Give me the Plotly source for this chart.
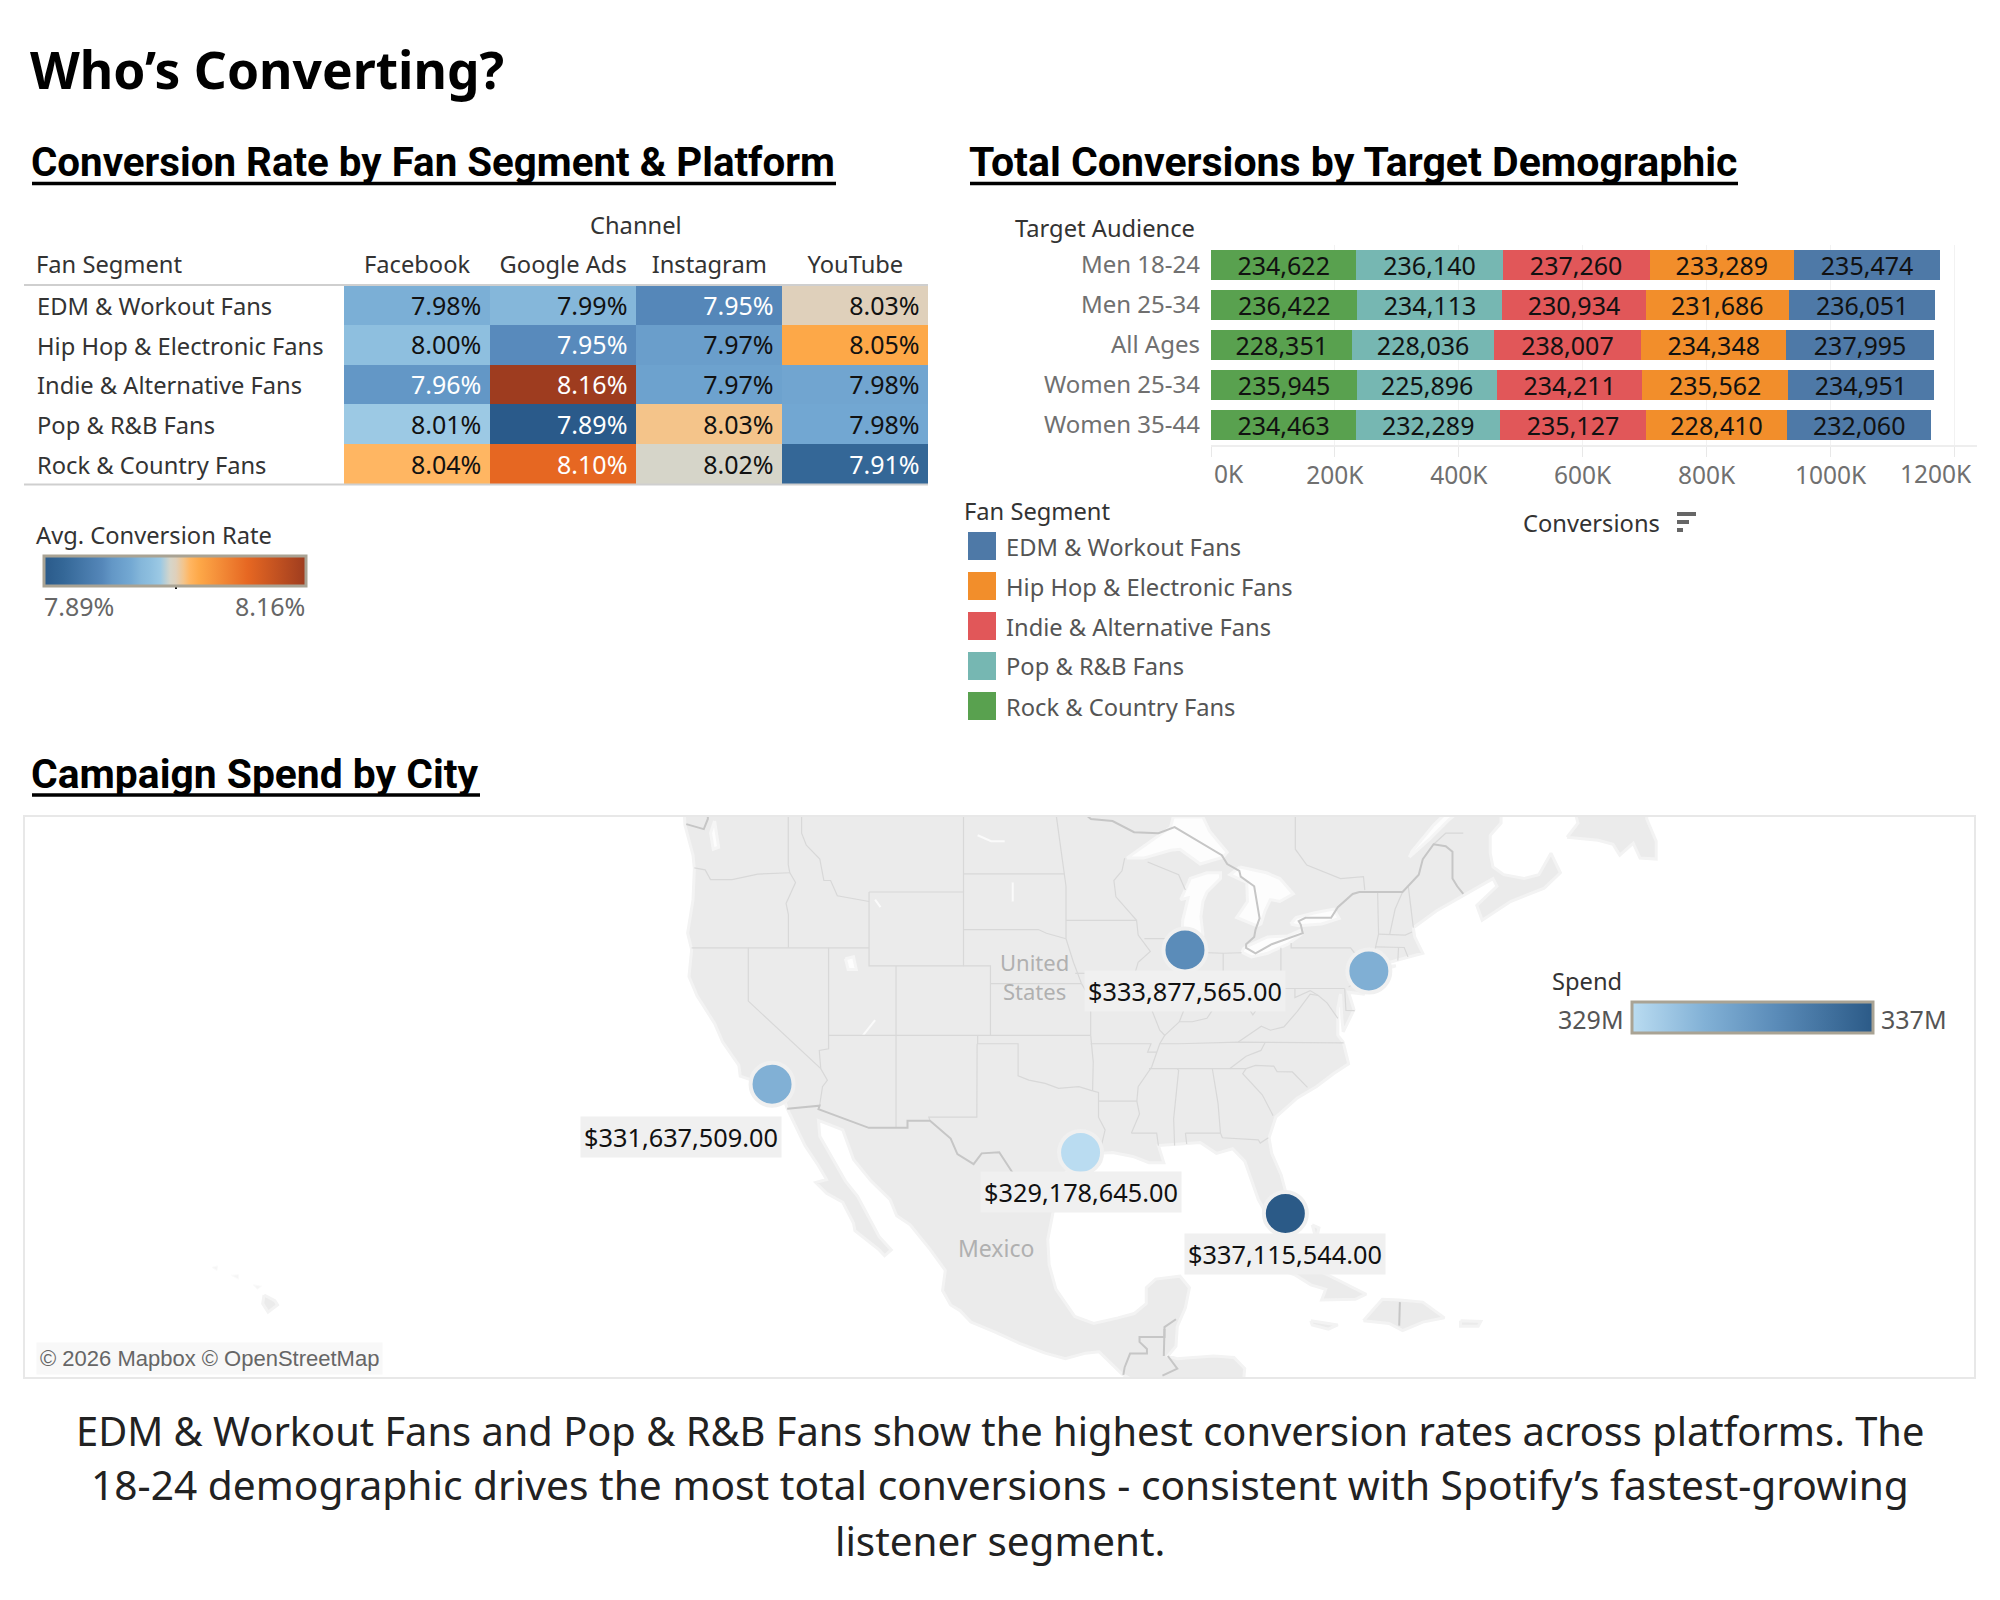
import numpy as np
import plotly.graph_objects as go

W, H = 2000, 1600
FONT = "Noto Sans"

# ---- heatmap data ----
segments = ["EDM & Workout Fans", "Hip Hop & Electronic Fans", "Indie & Alternative Fans",
            "Pop & R&B Fans", "Rock & Country Fans"]
channels = ["Facebook", "Google Ads", "Instagram", "YouTube"]
rate_edm = [7.984, 7.99, 7.95, 8.026]
rate_hiphop = [8.00, 7.952, 7.968, 8.05]
rate_indie = [7.96, 8.16, 7.972, 7.976]
rate_pop = [8.01, 7.89, 8.034, 7.978]
rate_rock = [8.04, 8.10, 8.02, 7.91]
rate_stops = [7.89, 7.91, 7.95, 7.96, 7.98, 7.99, 8.00, 8.01, 8.02, 8.026, 8.034, 8.04, 8.05, 8.10, 8.16]
rate_colors = ["#2a5a8a", "#346797", "#5587b9", "#6397c6", "#74a9d3", "#85b7da", "#8ebfdf", "#9cc9e4",
               "#d6d5c9", "#dfd0bb", "#f4c48a", "#ffb662", "#fda848", "#e66722", "#9e3c1f"]

# ---- stacked bar data ----
audiences = ["Men 18-24", "Men 25-34", "All Ages", "Women 25-34", "Women 35-44"]
conv_rock = [234622, 236422, 228351, 235945, 234463]
conv_pop = [236140, 234113, 228036, 225896, 232289]
conv_indie = [237260, 230934, 238007, 234211, 235127]
conv_hiphop = [233289, 231686, 234348, 235562, 228410]
conv_edm = [235474, 236051, 237995, 234951, 232060]
legend_segments = ["EDM & Workout Fans", "Hip Hop & Electronic Fans", "Indie & Alternative Fans",
                   "Pop & R&B Fans", "Rock & Country Fans"]
segment_colors = ["#4e79a7", "#f28e2b", "#e15759", "#76b7b2", "#59a14f"]
conv_ticks = [0, 200000, 400000, 600000, 800000, 1000000, 1200000]
conv_tick_labels = ["0K", "200K", "400K", "600K", "800K", "1000K", "1200K"]

# ---- city data ----
city_names = ["Los Angeles", "Chicago", "New York", "Houston", "Miami"]
city_lon = [-118.24, -87.63, -74.0, -95.37, -80.19]
city_lat = [34.05, 41.88, 40.71, 29.76, 25.76]
city_spend = [331637509.0, 333877565.0, 331700000.0, 329178645.0, 337115544.0]
city_labelled = [True, True, False, True, True]
city_label_dx = [-91, 0, 0, 0, 0]
city_label_dy = [54, 42, 0, 41, 42]
spend_stops = [0.0, 0.3, 0.6, 1.0]
spend_colors = ["#badcf1", "#82b1d6", "#5a8bb8", "#2b5a87"]

# ---- base map geography, lon/lat ----
mainland = [
    (-125, 52), (-124.7, 48.4), (-124.1, 46.9), (-124.0, 46.2), (-124.1, 44.6), (-124.5, 42.8), (-124.2, 41.9),
    (-124.4, 40.4), (-123.8, 39.3), (-123.0, 38.3), (-122.5, 37.7), (-121.9, 36.6), (-120.7, 35.2), (-120.6, 34.55),
    (-119.2, 34.15), (-118.4, 33.8), (-117.3, 33.0), (-117.1, 32.5), (-116.3, 31.1), (-115.8, 30.2), (-114.8, 28.9),
    (-114.2, 28.0), (-115.0, 27.8), (-114.2, 27.1), (-113.0, 26.5), (-112.2, 25.1), (-112.1, 24.6), (-110.3, 23.3),
    (-109.9, 22.9), (-109.4, 23.3), (-110.3, 24.2), (-110.7, 24.9), (-111.3, 25.9), (-111.9, 26.9), (-112.8, 27.9),
    (-113.5, 29.0), (-114.7, 30.8), (-114.8, 31.8), (-113.0, 31.2), (-112.2, 29.3), (-110.9, 27.9), (-109.5, 26.7),
    (-109.0, 25.6), (-108.0, 25.0), (-106.5, 23.3), (-105.4, 21.9), (-105.6, 20.5), (-105.0, 19.5), (-104.3, 19.1),
    (-103.5, 18.3), (-101.7, 17.6), (-99.9, 16.8), (-98.0, 16.1), (-96.5, 15.7), (-95.0, 16.1), (-94.0, 16.2),
    (-92.3, 14.6), (-91.0, 13.9), (-89.5, 13.4), (-87.5, 13.0), (-85, 11), (-83.5, 12), (-83.2, 15), (-84, 15.8),
    (-85.5, 15.9), (-87, 15.8), (-88.2, 15.7), (-88.9, 15.9), (-88.3, 16.6), (-88.2, 18.0), (-87.6, 19.3), (-87.3, 20.7),
    (-88, 21.5), (-89.8, 21.3), (-90.5, 20.7), (-90.5, 19.6), (-91.4, 18.9), (-92.6, 18.6), (-94.4, 18.2), (-95.8, 18.7),
    (-96.4, 19.5), (-97.2, 20.6), (-97.7, 22.3), (-97.8, 24.0), (-97.4, 25.9), (-97.3, 27.5), (-96.4, 28.5), (-95.0, 29.3),
    (-94.0, 29.7), (-93.0, 29.75), (-91.5, 29.5), (-90.3, 29.1), (-89.2, 29.1), (-89.6, 30.2), (-88.0, 30.3), (-86.5, 30.4),
    (-85.3, 29.7), (-84.1, 30.0), (-83.2, 29.2), (-82.7, 28.0), (-82.2, 26.7), (-81.7, 25.9), (-81.1, 25.15), (-80.4, 25.2),
    (-80.05, 26.8), (-80.5, 28.3), (-81.2, 29.7), (-81.4, 30.7), (-80.9, 32.0), (-79.3, 33.2), (-77.9, 33.9), (-76.6, 34.7),
    (-75.5, 35.3), (-75.9, 36.6), (-76.3, 37.0), (-76.3, 38.6), (-76.1, 39.4), (-76.0, 38.0), (-75.9, 37.2), (-75.1, 38.5), (-75.5, 39.5), (-74.4, 39.4), (-74.0, 40.5),
    (-72.0, 41.0), (-73.7, 40.9), (-72.0, 41.3), (-71.0, 41.5), (-70.0, 41.7), (-70.6, 42.6), (-70.7, 43.1),
    (-69.0, 44.0), (-67.0, 44.8), (-66.0, 45.2), (-64.8, 45.7), (-64.5, 45.3), (-66.0, 44.3), (-65.6, 43.5), (-63.5, 44.5),
    (-61.0, 45.2), (-59.8, 46.0), (-60.5, 47.0), (-61.4, 45.9), (-62.5, 45.7), (-64.0, 45.9), (-64.8, 46.3), (-65.0, 47.0),
    (-65.0, 47.9), (-64.2, 48.5), (-64.2, 52),
]
newfoundland = [(-59.3, 47.8), (-57, 47.65), (-55.9, 47.45), (-55.4, 46.9), (-54.4, 47.5), (-53.9, 46.75), (-52.7, 46.7),
                (-52.7, 47.6), (-53.4, 48.7), (-53.4, 49.5), (-58.9, 49.5), (-58.5, 48.5)]
cuba = [(-84.9, 21.9), (-83.5, 22.9), (-82, 23.15), (-80.5, 23.05), (-79, 22.4), (-77.5, 21.8), (-76, 21.1), (-74.2, 20.25),
        (-75, 19.9), (-77.5, 19.85), (-77.2, 20.6), (-78.3, 20.9), (-79.5, 21.6), (-81, 22.1), (-82.2, 22.4), (-83.9, 22.2)]
jamaica = [(-78.3, 18.4), (-76.3, 18.1), (-77, 17.8), (-78.2, 18.1)]
hispaniola = [(-74.4, 18.4), (-73, 19.9), (-71.7, 19.85), (-70, 19.7), (-68.4, 18.6), (-70, 18.3), (-71.5, 17.7), (-72.5, 18.2)]
puerto_rico = [(-67.2, 18.4), (-65.7, 18.35), (-65.9, 18), (-67.2, 18)]
andros = [(-78.2, 25), (-77.7, 24.8), (-77.9, 24)]
hawaii = [(-155.9, 20.2), (-155.1, 19.8), (-154.9, 19.5), (-155.6, 19.0), (-156, 19.6)]
maui = [(-156.7, 20.9), (-156.1, 20.8), (-156.4, 20.6)]
oahu = [(-158.3, 21.55), (-157.8, 21.6), (-157.8, 21.3)]
kauai = [(-159.75, 22.1), (-159.35, 22.2), (-159.4, 21.9)]
land_rings = [mainland, newfoundland, cuba, jamaica, hispaniola, puerto_rico, andros, hawaii]
islet_rings = [maui, oahu, kauai]

superior = [(-91.94, 46.75), (-90.2, 47.6), (-88.7, 48.3), (-88.5, 48.8), (-86.3, 48.8), (-85.8, 48.1), (-84.5, 47.05),
            (-84.8, 46.8), (-86.5, 46.45), (-88, 47.2), (-88.7, 47.15), (-90.7, 46.75)]
michigan = [(-87.3, 45.7), (-86, 46.0), (-85, 46.0), (-85.0, 45.7), (-86.0, 45.0), (-86.3, 44.5), (-86.45, 43.7), (-86.3, 42.7),
            (-86.9, 41.75), (-87.5, 41.65), (-87.85, 42.5), (-87.8, 43.5), (-87.4, 44.7), (-87.95, 44.6), (-87.3, 45.6)]
huron = [(-83.55, 46.3), (-81.6, 46), (-80.6, 45.7), (-79.6, 44.9), (-80.6, 44.5), (-81.3, 44.6), (-81.7, 44), (-82, 43.3),
         (-82.3, 43.2), (-83.8, 43.65), (-83, 44.5), (-83.05, 45.5), (-84.3, 45.9)]
erie = [(-83.4, 41.75), (-82.7, 41.5), (-81.5, 41.7), (-80, 42.2), (-79, 42.75), (-78.95, 43), (-80, 42.65), (-81.5, 42.6),
        (-83, 42.1), (-83.3, 41.95)]
ontario = [(-79.8, 43.3), (-79.4, 43.65), (-78, 43.9), (-76.6, 44.1), (-76.2, 43.6), (-77.5, 43.3), (-79.2, 43.2)]
st_lawrence = [(-71, 46.8), (-69.5, 47.7), (-68, 48.7), (-67, 49.2), (-67.5, 49.5), (-69.2, 48.4), (-70.8, 47.1)]
salt_lake = [(-112.8, 41.4), (-112.2, 41.5), (-112, 40.8), (-112.6, 40.8)]
puget = [(-122.5, 48.6), (-122.2, 47.3), (-122.6, 47.2), (-122.8, 48)]
water_rings = [superior, michigan, huron, erie, ontario, st_lawrence, salt_lake, puget]

river_lines = [
    [(-103, 47.9), (-102, 47.6), (-101, 47.6)],
    [(-100.4, 45.5), (-100.4, 44.5)],
    [(-110.6, 44.6), (-110.2, 44.2)],
    [(-110.6, 37.9), (-111.5, 37.0)],
]

state_lines = [
    [(-124, 46.25), (-123.2, 46.15), (-122.8, 45.65), (-121.2, 45.65), (-119.3, 45.93), (-116.92, 46.0)],
    [(-117.04, 49), (-117.04, 46.4), (-116.92, 46.0), (-116.5, 45.5), (-117.2, 44.4), (-117.03, 43.8), (-117.03, 42)],
    [(-116.05, 49), (-116.05, 48), (-115.7, 47.4), (-114.7, 46.7), (-114.4, 45.6), (-113.9, 45.6), (-113.4, 44.8), (-111.05, 44.5)],
    [(-124.2, 42), (-111.05, 42)],
    [(-120, 42), (-120, 39), (-114.63, 35.0), (-114.14, 34.3), (-114.5, 33.9), (-114.72, 32.72)],
    [(-114.05, 42), (-114.05, 36.2), (-114.74, 36.1), (-114.63, 35.0)],
    [(-114.05, 37), (-94.62, 37)],
    [(-109.05, 41), (-109.05, 31.33)],
    [(-111.05, 45), (-111.05, 41), (-104.05, 41), (-104.05, 45), (-111.05, 45)],
    [(-104.05, 41), (-102.05, 41), (-102.05, 37)],
    [(-104.05, 49), (-104.05, 45)],
    [(-104.05, 45.94), (-96.56, 45.94)],
    [(-104.05, 43), (-98.5, 43), (-97.9, 42.8), (-96.45, 42.5)],
    [(-102.05, 40), (-95.3, 40)],
    [(-103, 37), (-103, 36.5), (-100, 36.5), (-100, 34.56), (-99.2, 34.3), (-98, 34.1), (-97, 33.8), (-95.5, 33.9), (-94.48, 33.64)],
    [(-103.04, 36.5), (-103.06, 32), (-106.62, 32), (-106.53, 31.78)],
    [(-94.48, 33.64), (-94.04, 33.55), (-94.04, 32), (-93.55, 31.2), (-93.8, 30.3), (-93.85, 29.7)],
    [(-94.62, 37), (-94.43, 35.4), (-94.48, 33.64)],
    [(-94.62, 37), (-94.62, 39.1), (-95.3, 40)],
    [(-97.2, 49), (-96.8, 47), (-96.56, 45.94), (-96.45, 45.3), (-96.45, 42.5), (-95.9, 41.2), (-95.3, 40)],
    [(-96.45, 43.5), (-91.22, 43.5)],
    [(-95.77, 40.58), (-91.72, 40.6), (-91.42, 40.38)],
    [(-92.1, 46.75), (-92.3, 46.1), (-92.9, 45.6), (-92.75, 44.75), (-91.22, 43.5), (-91.1, 42.7), (-90.2, 41.8), (-91.1, 41.2),
     (-91.42, 40.38), (-91.5, 40.0), (-90.7, 39.0), (-90.2, 38.7), (-89.5, 37.3), (-89.13, 37.0), (-89.5, 36.5), (-90.1, 35.1),
     (-91.1, 33.9), (-91.2, 33.0), (-91.0, 32.2), (-91.6, 31.0)],
    [(-91.6, 31), (-89.73, 31), (-89.6, 30.2)],
    [(-94.04, 33), (-91.17, 33)],
    [(-94.62, 36.5), (-90.15, 36.5), (-90.4, 36.0), (-89.7, 36.0)],
    [(-90.64, 42.5), (-87.8, 42.5)],
    [(-90.4, 46.55), (-88.1, 45.9), (-87.6, 45.1)],
    [(-87.53, 41.7), (-87.53, 39.3), (-87.6, 38.7), (-88.05, 37.8)],
    [(-89.13, 37.0), (-88.05, 37.8), (-87.1, 37.8), (-86.0, 38.0), (-85.4, 38.7), (-84.8, 39.1), (-84.2, 38.8), (-83.0, 38.7),
     (-82.6, 38.2), (-81.7, 39.2), (-80.9, 39.7), (-80.52, 40.64)],
    [(-84.8, 39.1), (-84.8, 41.7)],
    [(-87.2, 41.76), (-84.8, 41.7), (-83.45, 41.73)],
    [(-80.52, 42), (-80.52, 39.72), (-75.79, 39.72)],
    [(-79.76, 42.27), (-79.76, 42), (-75.35, 42), (-74.7, 41.36)],
    [(-74.7, 41.36), (-75.1, 40.9), (-74.8, 40.2), (-75.5, 39.8)],
    [(-74.7, 41.36), (-73.9, 41)],
    [(-73.65, 41.0), (-73.5, 42.05), (-73.28, 42.75), (-73.35, 45.0)],
    [(-73.5, 42.05), (-71.38, 42.02), (-71.1, 41.5)],
    [(-71.8, 42.02), (-71.85, 41.3)],
    [(-73.28, 42.75), (-71.3, 42.7), (-70.8, 42.87)],
    [(-72.46, 42.73), (-72.05, 44.1), (-71.5, 45.0)],
    [(-70.7, 43.1), (-71.08, 45.3)],
    [(-89.5, 36.5), (-88.07, 36.5), (-83.68, 36.6), (-81.68, 36.59), (-75.87, 36.55)],
    [(-83.68, 36.6), (-81.97, 37.54), (-81.3, 37.3), (-80.3, 37.5), (-79.3, 38.4), (-78.35, 39.4), (-77.75, 39.32)],
    [(-90.3, 35), (-84.32, 34.99), (-83.1, 35)],
    [(-81.68, 36.59), (-82.0, 36.1), (-83.1, 35.75), (-84.32, 35.0)],
    [(-88.2, 35), (-88.1, 34.9), (-88.47, 31.9), (-88.4, 30.2)],
    [(-85.6, 34.98), (-85.18, 32.87), (-85.0, 31)],
    [(-87.6, 31), (-85.0, 31), (-84.86, 30.7), (-82.2, 30.57), (-82.05, 30.36), (-81.45, 30.7)],
    [(-87.6, 31), (-87.5, 30.3)],
    [(-83.1, 35), (-83.35, 34.7), (-81.9, 33.4), (-81.1, 32.1)],
    [(-83.1, 35), (-82.4, 35.2), (-81.05, 35.15), (-80.8, 34.82), (-79.67, 34.8), (-78.55, 33.86)],
    [(-79.48, 39.72), (-79.48, 39.2), (-78.35, 39.6), (-77.75, 39.32), (-77.1, 38.9), (-76.3, 38.0)],
    [(-75.79, 39.72), (-75.7, 38.46), (-75.05, 38.45)],
    [(-79.45, 49), (-79.45, 47.2), (-78.6, 46.4), (-76.1, 45.7), (-74.4, 45.8), (-74.3, 45.1)],
    [(-69.2, 47.45), (-68.3, 48.0), (-67, 48.0)],
]
country_lines = [
    [(-124.6, 48.45), (-123.3, 48.2), (-123, 48.7), (-123, 49), (-95.15, 49), (-94.6, 48.7), (-93, 48.6), (-91.4, 48.05), (-89.6, 48.0),
     (-88.4, 48.3), (-84.9, 46.9), (-84.5, 46.45), (-83.6, 46.1), (-83.5, 45.8), (-82.5, 45.3), (-82.1, 43.6), (-82.4, 43.0),
     (-82.5, 42.6), (-83.1, 42.2), (-83.1, 42.0), (-82.4, 41.7), (-81.2, 42.2), (-78.9, 42.8), (-79.05, 43.27), (-79.2, 43.45),
     (-78.7, 43.63), (-76.8, 43.63), (-76.3, 44.2), (-75.2, 44.9), (-74.7, 45), (-71.5, 45), (-71.08, 45.3), (-70.3, 45.9),
     (-70, 46.7), (-69.2, 47.45), (-68.3, 47.35), (-67.8, 47.07), (-67.8, 45.7), (-67.45, 45.3), (-67, 44.9)],
    [(-117.12, 32.53), (-114.72, 32.72), (-114.8, 32.5), (-111.07, 31.33), (-108.2, 31.33), (-108.2, 31.78), (-106.53, 31.78),
     (-105, 30.65), (-104.5, 29.65), (-103.3, 29), (-102.7, 29.7), (-101.4, 29.77), (-100.3, 28.3), (-99.5, 27.5), (-99.1, 26.4), (-97.15, 25.95)],
    [(-92.2, 14.55), (-92.1, 15.1), (-91.7, 16.07), (-90.45, 16.07), (-90.45, 16.4), (-91.0, 16.9), (-91.0, 17.25), (-89.15, 17.25),
     (-89.15, 17.95), (-88.3, 18.5)],
    [(-89.15, 17.82), (-89.2, 15.9)],
    [(-88.9, 15.9), (-88.2, 15.0), (-89.3, 14.5)],
    [(-71.7, 19.7), (-71.75, 18.05)],
]


def merc(lat):
    """Web Mercator ordinate, in degrees."""
    return np.degrees(np.log(np.tan(np.radians(45 + np.asarray(lat, dtype=float) / 2))))


def flatten(rings):
    lon, lat = [], []
    for ring in rings:
        lon += [p[0] for p in ring] + [None]
        lat += [float(merc(p[1])) for p in ring] + [None]
    return lon, lat


def closed(rings):
    return [r + [r[0]] for r in rings]


def dom_x(a, b):
    return [a / W, b / W]


def dom_y(top, bottom):
    return [1 - bottom / H, 1 - top / H]


def px(x):
    return x / W


def py(y):
    return 1 - y / H


annotations, shapes = [], []


def label(text, x, y, size=23.7, color="#333333", anchor="left", bold=False, family=FONT, bg=None, pad=0):
    annotations.append(dict(
        text=f"<b>{text}</b>" if bold else text, x=px(x), y=py(y), xref="paper", yref="paper",
        xanchor=anchor, yanchor="middle", showarrow=False,
        font=dict(family=family, size=size, color=color), bgcolor=bg, borderpad=pad,
    ))


def rule(x0, x1, y, color, width):
    shapes.append(dict(type="line", xref="paper", yref="paper", x0=px(x0), x1=px(x1), y0=py(y), y1=py(y),
                       line=dict(color=color, width=width)))


def box(x0, x1, y0, y1, color):
    shapes.append(dict(type="rect", xref="paper", yref="paper", x0=px(x0), x1=px(x1), y0=py(y0), y1=py(y1),
                       fillcolor=color, line=dict(width=0)))


def map_line(rings, color, width):
    lon, y = flatten(rings)
    return go.Scatter(x=lon, y=y, mode="lines", line=dict(color=color, width=width),
                      hoverinfo="skip", xaxis="x3", yaxis="y3", showlegend=False)


def map_fill(rings, color, edge, width):
    lon, y = flatten(closed(rings))
    return go.Scatter(x=lon, y=y, mode="lines", fill="toself", fillcolor=color, line=dict(color=edge, width=width),
                      hoverinfo="skip", xaxis="x3", yaxis="y3", showlegend=False)


fig = go.Figure()

# ---- heatmap: conversion rate per segment and channel ----
rates = [rate_edm, rate_hiphop, rate_indie, rate_pop, rate_rock]
rate_min, rate_max = 7.89, 8.16
rate_scale = [[(v - rate_min) / (rate_max - rate_min), c] for v, c in zip(rate_stops, rate_colors)]
fig.add_trace(go.Heatmap(
    z=rates, x=list(range(len(channels))), y=list(range(len(segments))),
    colorscale=rate_scale, zmin=rate_min, zmax=rate_max, xgap=0, ygap=0, hoverinfo="skip",
    colorbar=dict(orientation="h", x=px(44), xanchor="left", y=py(556), yanchor="top", len=262, lenmode="pixels",
                  thickness=30, thicknessmode="pixels", outlinecolor="#a9a394", outlinewidth=3, borderwidth=0,
                  xpad=0, ypad=0, ticks="", showticklabels=False),
    xaxis="x", yaxis="y",
))
cell_x, cell_y, cell_text, cell_color = [], [], [], []
for r, row in enumerate(rates):
    for c, v in enumerate(row):
        cell_x.append(c + 0.44)
        cell_y.append(r + 0.085)
        cell_text.append(f"{v:.2f}%")
        cell_color.append("#ffffff" if v < 7.965 or v >= 8.09 else "#111111")
fig.add_trace(go.Scatter(x=cell_x, y=cell_y, text=cell_text, mode="text", textposition="middle left",
                         textfont=dict(family=FONT, size=25, color=cell_color), hoverinfo="skip",
                         xaxis="x", yaxis="y", showlegend=False))
for r, name in enumerate(segments):
    annotations.append(dict(text=name, x=px(34.5), xref="paper", y=r, yref="y", xanchor="left", yanchor="middle",
                            yshift=-1, showarrow=False, font=dict(family=FONT, size=23.7, color="#333333")))
rule(24, 928, 285, "#cfcfcf", 2)
rule(24, 928, 484.5, "#cfcfcf", 2)
label("Channel", 636, 224.5, anchor="center")
label("Fan Segment", 35, 264)
label("Avg. Conversion Rate", 35, 535)
label("7.89%", 43, 606, size=25, color="#666666")
label("8.16%", 306, 606, size=25, color="#666666", anchor="right")
shapes.append(dict(type="line", xref="paper", yref="paper", x0=px(176), x1=px(176), y0=py(581), y1=py(589),
                   line=dict(color="#111111", width=2)))

# ---- stacked bars: conversions by audience ----
series = [("Rock & Country Fans", conv_rock, "#59a14f"), ("Pop & R&B Fans", conv_pop, "#76b7b2"),
          ("Indie & Alternative Fans", conv_indie, "#e15759"), ("Hip Hop & Electronic Fans", conv_hiphop, "#f28e2b"),
          ("EDM & Workout Fans", conv_edm, "#4e79a7")]
for name, values, color in series:
    fig.add_trace(go.Bar(
        y=audiences, x=values, orientation="h", name=name, marker=dict(color=color, line=dict(width=0)),
        text=[f"{v:,}" for v in values], textposition="inside", insidetextanchor="middle", textangle=0,
        constraintext="none", textfont=dict(family=FONT, size=25, color="#111111"), hoverinfo="skip",
        xaxis="x2", yaxis="y2", showlegend=False,
    ))
label(conv_tick_labels[0], 1213, 473, size=24.5, color="#707070")
label(conv_tick_labels[-1], 1973, 473, size=24.5, color="#707070", anchor="right")
label("Target Audience", 1014, 227.5)
label("Conversions", 1522, 522.5)
for i, w in enumerate([19, 12, 6]):
    box(1677, 1677 + w, 512 + i * 8, 516 + i * 8, "#666666")
label("Fan Segment", 963, 511)
for i, (name, color) in enumerate(zip(legend_segments, segment_colors)):
    box(968, 996, 532 + i * 40, 560 + i * 40, color)
    label(name, 1005, 546.5 + i * 40, color="#555555")

# ---- map: spend by city ----
fig.add_trace(map_fill(land_rings, "#ebebeb", "#f3f3f3", 3))
fig.add_trace(map_fill(islet_rings, "#f5f5f5", "#fafafa", 1))
fig.add_trace(map_fill(water_rings, "#fdfdfd", "#f5f5f5", 3))
fig.add_trace(map_line(river_lines, "#fafafa", 2))
fig.add_trace(map_line(state_lines, "#d8d8d8", 1.2))
fig.add_trace(map_line(country_lines, "#c6c6c6", 2))

spend_min, spend_max = min(city_spend), max(city_spend)
city_y = [float(merc(v)) for v in city_lat]
fig.add_trace(go.Scatter(
    x=city_lon, y=city_y, mode="markers", text=city_names, hoverinfo="text",
    marker=dict(size=43, color=city_spend, cmin=spend_min, cmax=spend_max,
                colorscale=[[s, c] for s, c in zip(spend_stops, spend_colors)],
                line=dict(color="#f0f0f0", width=4), opacity=1,
                colorbar=dict(orientation="h", x=px(1632), xanchor="left", y=py(1002), yanchor="top", len=241,
                              lenmode="pixels", thickness=31, thicknessmode="pixels", outlinecolor="#a9a394",
                              outlinewidth=3, borderwidth=0, xpad=0, ypad=0, ticks="", showticklabels=False)),
    xaxis="x3", yaxis="y3", showlegend=False,
))
for lon, y, v, show, dx, dy in zip(city_lon, city_y, city_spend, city_labelled, city_label_dx, city_label_dy):
    if show:
        annotations.append(dict(text=f"${v:,.2f}", x=lon, y=y, xref="x3", yref="y3", xshift=dx, yshift=-dy + 1,
                                xanchor="center", yanchor="middle", showarrow=False, bgcolor="#f0f0f0", borderpad=3,
                                font=dict(family=FONT, size=25.3, color="#111111")))
label("Spend", 1551, 980.5)
label("329M", 1625, 1019, size=25, color="#555555", anchor="right")
label("337M", 1880, 1019, size=25, color="#555555")
label("United<br>States", 1034, 976, size=22, color="#b0b0b0", anchor="center")
label("Mexico", 996, 1248, size=23, color="#b0b0b0", anchor="center")
label("© 2026 Mapbox © OpenStreetMap", 36, 1358, size=22, color="#666666", family="Liberation Sans", bg="#f8f8f8", pad=3)

# ---- headings ----
label("Who’s Converting?", 29, 69, size=51.5, color="#000000", bold=True)
label("Conversion Rate by Fan Segment & Platform", 30, 162, size=40.3, color="#000000", bold=True, family="Roboto")
rule(32, 836, 183.5, "#000000", 3.5)
label("Total Conversions by Target Demographic", 968, 162, size=41, color="#000000", bold=True, family="Roboto")
rule(970, 1738, 183.5, "#000000", 3.5)
label("Campaign Spend by City", 30, 774, size=40.8, color="#000000", bold=True, family="Roboto")
rule(32, 480, 795, "#000000", 3.5)

label("EDM & Workout Fans and Pop & R&B Fans show the highest conversion rates across platforms. The", 1000, 1430, size=39.8, color="#222222", anchor="center")
label("18-24 demographic drives the most total conversions - consistent with Spotify’s fastest-growing", 1000, 1484, size=40.7, color="#222222", anchor="center")
label("listener segment.", 1000, 1540, size=40.4, color="#222222", anchor="center")

fig.update_layout(
    width=W, height=H, autosize=False, margin=dict(l=0, r=0, t=0, b=0, pad=0),
    paper_bgcolor="#ffffff", plot_bgcolor="#ffffff", barmode="stack", bargap=0.25,
    annotations=annotations, shapes=shapes, showlegend=False,
    font=dict(family=FONT, size=24, color="#333333"),
    xaxis=dict(domain=dom_x(344, 928.4), range=[-0.5, 3.5], side="top", tickvals=list(range(len(channels))),
               ticktext=channels, ticks="", showgrid=False, zeroline=False, showline=False,
               tickfont=dict(family=FONT, size=23.7, color="#333333"), anchor="y", ticklabelstandoff=6),
    yaxis=dict(domain=dom_y(285, 484), range=[4.5, -0.5], showticklabels=False, ticks="", showgrid=False,
               zeroline=False, showline=False, anchor="x"),
    xaxis2=dict(domain=dom_x(1211, 1977), range=[0, 1236500], tickvals=conv_ticks,
                ticktext=[""] + conv_tick_labels[1:-1] + [""], ticks="outside", ticklen=10, tickcolor="#e8e8e8",
                tickfont=dict(family=FONT, size=24.5, color="#707070"), showgrid=True, gridcolor="#f2f2f2", gridwidth=1,
                zeroline=False, showline=True, linecolor="#eeeeee", linewidth=2, anchor="y2", ticklabelstandoff=-2),
    yaxis2=dict(domain=dom_y(245, 445), autorange="reversed", categoryorder="array", categoryarray=audiences, ticks="",
                tickfont=dict(family=FONT, size=24, color="#707070"), showgrid=False, zeroline=False,
                showline=False, anchor="x2", ticklabelstandoff=10),
    xaxis3=dict(domain=dom_x(25, 1974), range=[-173.62, -29.14], visible=True, showticklabels=False, ticks="",
                showgrid=False, zeroline=False, showline=True, mirror=True, linecolor="#e8e8e8", linewidth=2, anchor="y3"),
    yaxis3=dict(domain=dom_y(817, 1377), range=[14.55, 56.06], showticklabels=False, ticks="", showgrid=False,
                zeroline=False, showline=True, mirror=True, linecolor="#e8e8e8", linewidth=2, anchor="x3"),
)

fig.write_html("out.html")
